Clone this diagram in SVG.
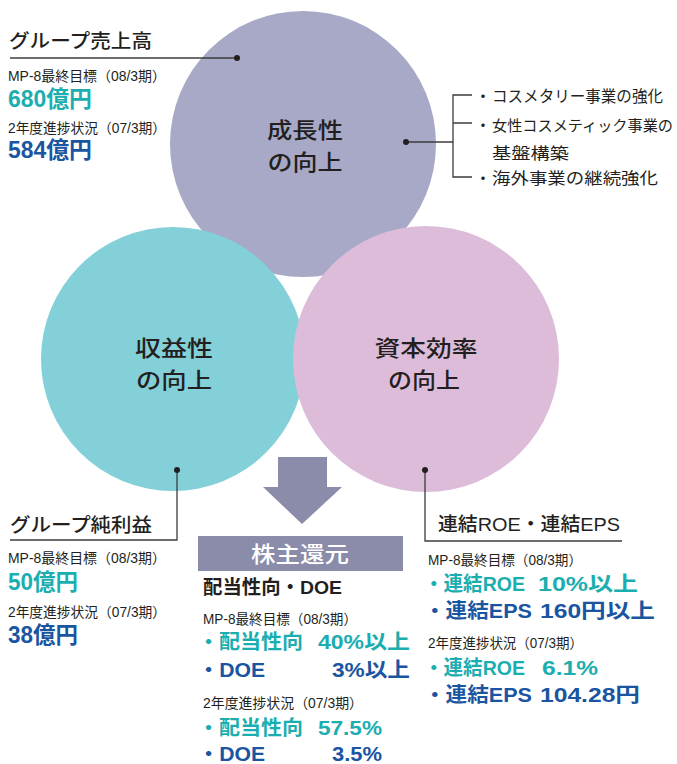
<svg xmlns="http://www.w3.org/2000/svg" width="677" height="764" viewBox="0 0 677 764">
<style>
text{font-family:"Liberation Sans","Noto Sans CJK JP",sans-serif;fill:#231F20}
.s{font-size:14px}
.h{font-size:19px;font-weight:500}
.c{font-size:22px;font-weight:500;text-anchor:middle}
.vl{font-size:23px;font-weight:bold}
.v{font-size:20px;font-weight:bold}
.tl{fill:#1BAEB0}
.bl{fill:#1A55A2}
.e{text-anchor:end}
.b{font-size:16px}
.bu{font-size:16px;text-anchor:middle}
.ln{fill:none;stroke:#3C3C3C;stroke-width:1.3}
.dot{fill:#231F20}
</style>
<rect width="677" height="764" fill="#FFFFFF"/>
<g id="circles">
<g id="growth"><circle cx="303" cy="144" r="133" fill="#A7A9C6"/></g>
<g id="profit"><circle cx="173" cy="359" r="132" fill="#84D0D9"/></g>
<g id="capital"><circle cx="426" cy="359" r="133" fill="#DDBCDA"/></g>
</g>
<g id="labels">
<text class="c" x="305" y="138" textLength="76" lengthAdjust="spacingAndGlyphs">成長性</text>
<text class="c" x="305" y="170" textLength="75" lengthAdjust="spacingAndGlyphs">の向上</text>
<text class="c" x="174" y="356" textLength="78" lengthAdjust="spacingAndGlyphs">収益性</text>
<text class="c" x="174" y="388" textLength="76" lengthAdjust="spacingAndGlyphs">の向上</text>
<text class="c" x="426" y="356" textLength="103" lengthAdjust="spacingAndGlyphs">資本効率</text>
<text class="c" x="424" y="388" textLength="72" lengthAdjust="spacingAndGlyphs">の向上</text>
</g>
<g id="connectors">
<path class="ln" d="M10,58 H237"/>
<circle class="dot" cx="237" cy="58" r="3"/>
<path class="ln" d="M406,142 H453 M472,95 H453 V177 H472 M453,123 H472"/>
<circle class="dot" cx="406" cy="142" r="3"/>
<path class="ln" d="M177,470 V540 H10"/>
<circle class="dot" cx="177" cy="470" r="3"/>
<path class="ln" d="M425,470 V541 H622"/>
<circle class="dot" cx="425" cy="470" r="3"/>
<polygon id="arrow" points="278,457 327,457 327,487 342,487 302,524 263,487 278,487" fill="#8A8CAA"/>
</g>
<g id="sales">
<text class="h" x="9" y="48" textLength="143" lengthAdjust="spacingAndGlyphs">グループ売上高</text>
<text class="s" x="8" y="81" textLength="158" lengthAdjust="spacingAndGlyphs">MP-8最終目標（08/3期）</text>
<text class="vl tl" x="8" y="107" textLength="84" lengthAdjust="spacingAndGlyphs">680億円</text>
<text class="s" x="8" y="133" textLength="158" lengthAdjust="spacingAndGlyphs">2年度進捗状況（07/3期）</text>
<text class="vl bl" x="8" y="158" textLength="84" lengthAdjust="spacingAndGlyphs">584億円</text>
</g>
<g id="growth-items">
<text class="bu" x="483" y="102">・</text>
<text class="b" x="492" y="102" textLength="171" lengthAdjust="spacingAndGlyphs">コスメタリー事業の強化</text>
<text class="bu" x="483" y="131">・</text>
<text class="b" x="492" y="131" style="font-size:15px" textLength="181" lengthAdjust="spacingAndGlyphs">女性コスメティック事業の</text>
<text class="b" x="492" y="159" textLength="77" lengthAdjust="spacingAndGlyphs">基盤構築</text>
<text class="bu" x="483" y="184">・</text>
<text class="b" x="492" y="184" textLength="166" lengthAdjust="spacingAndGlyphs">海外事業の継続強化</text>
</g>
<g id="net-income">
<text class="h" x="10" y="532" textLength="142" lengthAdjust="spacingAndGlyphs">グループ純利益</text>
<text class="s" x="8" y="563" textLength="158" lengthAdjust="spacingAndGlyphs">MP-8最終目標（08/3期）</text>
<text class="vl tl" x="8" y="590" textLength="70" lengthAdjust="spacingAndGlyphs">50億円</text>
<text class="s" x="8" y="617" textLength="158" lengthAdjust="spacingAndGlyphs">2年度進捗状況（07/3期）</text>
<text class="vl bl" x="8" y="643" textLength="70" lengthAdjust="spacingAndGlyphs">38億円</text>
</g>
<g id="shareholder">
<rect x="198" y="536" width="205" height="35" fill="#8A8CAA"/>
<text class="c" x="300" y="562" style="fill:#FFFFFF" textLength="98" lengthAdjust="spacingAndGlyphs">株主還元</text>
<text x="203" y="594" style="font-size:19px;font-weight:bold" textLength="139" lengthAdjust="spacingAndGlyphs">配当性向・DOE</text>
<text class="s" x="203" y="624" textLength="154" lengthAdjust="spacingAndGlyphs">MP-8最終目標（08/3期）</text>
<text class="v tl" x="198" y="649" textLength="105" lengthAdjust="spacingAndGlyphs">・配当性向</text>
<text class="v tl e" x="410" y="649" textLength="92" lengthAdjust="spacingAndGlyphs">40%以上</text>
<text class="v bl" x="198" y="677" textLength="67" lengthAdjust="spacingAndGlyphs">・DOE</text>
<text class="v bl e" x="410" y="677" textLength="78" lengthAdjust="spacingAndGlyphs">3%以上</text>
<text class="s" x="203" y="708" textLength="160" lengthAdjust="spacingAndGlyphs">2年度進捗状況（07/3期）</text>
<text class="v tl" x="198" y="735" textLength="105" lengthAdjust="spacingAndGlyphs">・配当性向</text>
<text class="v tl e" x="382" y="735" textLength="64" lengthAdjust="spacingAndGlyphs">57.5%</text>
<text class="v bl" x="198" y="761" textLength="67" lengthAdjust="spacingAndGlyphs">・DOE</text>
<text class="v bl e" x="382" y="761" textLength="50" lengthAdjust="spacingAndGlyphs">3.5%</text>
</g>
<g id="roe-eps">
<text class="h" x="438" y="531" textLength="182" lengthAdjust="spacingAndGlyphs">連結ROE・連結EPS</text>
<text class="s" x="428" y="565" textLength="154" lengthAdjust="spacingAndGlyphs">MP-8最終目標（08/3期）</text>
<text class="v tl" x="424" y="591" textLength="101" lengthAdjust="spacingAndGlyphs">・連結ROE</text>
<text class="v tl" x="538" y="591" textLength="100" lengthAdjust="spacingAndGlyphs">10%以上</text>
<text class="v bl" x="424" y="618" textLength="108" lengthAdjust="spacingAndGlyphs">・連結EPS</text>
<text class="v bl" x="540" y="618" textLength="115" lengthAdjust="spacingAndGlyphs">160円以上</text>
<text class="s" x="428" y="648" textLength="155" lengthAdjust="spacingAndGlyphs">2年度進捗状況（07/3期）</text>
<text class="v tl" x="424" y="675" textLength="101" lengthAdjust="spacingAndGlyphs">・連結ROE</text>
<text class="v tl" x="542" y="675" textLength="56" lengthAdjust="spacingAndGlyphs">6.1%</text>
<text class="v bl" x="424" y="702" textLength="108" lengthAdjust="spacingAndGlyphs">・連結EPS</text>
<text class="v bl" x="540" y="702" textLength="100" lengthAdjust="spacingAndGlyphs">104.28円</text>
</g>
</svg>
